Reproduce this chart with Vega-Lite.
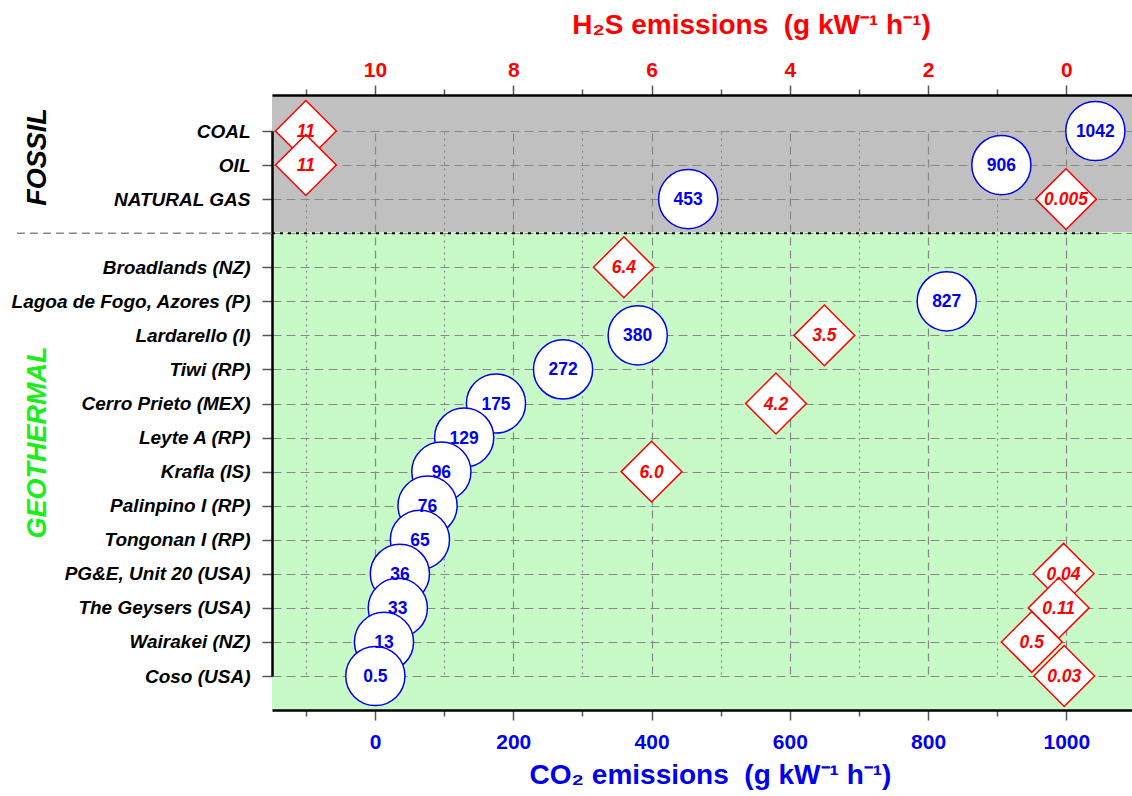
{
  "$schema": "https://vega.github.io/schema/vega-lite/v6.json",
  "width": 860,
  "height": 615,
  "autosize": {"type": "none"},
  "padding": {"left": 272, "top": 95, "right": 0, "bottom": 86},
  "background": "white",
  "config": {
    "font": "Liberation Sans",
    "view": {
      "stroke": null,
      "fill": {
        "gradient": "linear", "x1": 0, "y1": 0, "x2": 0, "y2": 1,
        "stops": [
          {"offset": 0, "color": "#c0c0c0"},
          {"offset": 0.2235, "color": "#c0c0c0"},
          {"offset": 0.2235, "color": "#c8fac8"},
          {"offset": 1, "color": "#c8fac8"}
        ]
      }
    }
  },
  "datasets": {
    "plants": [
      {"name": "COAL", "group": "FOSSIL", "co2": 1042, "co2Label": "1042", "h2s": 11, "h2sLabel": "11"},
      {"name": "OIL", "group": "FOSSIL", "co2": 906, "co2Label": "906", "h2s": 11, "h2sLabel": "11"},
      {"name": "NATURAL GAS", "group": "FOSSIL", "co2": 453, "co2Label": "453", "h2s": 0.005, "h2sLabel": "0.005"},
      {"name": "Broadlands (NZ)", "group": "GEOTHERMAL", "co2": null, "co2Label": null, "h2s": 6.4, "h2sLabel": "6.4"},
      {"name": "Lagoa de Fogo, Azores (P)", "group": "GEOTHERMAL", "co2": 827, "co2Label": "827", "h2s": null, "h2sLabel": null},
      {"name": "Lardarello (I)", "group": "GEOTHERMAL", "co2": 380, "co2Label": "380", "h2s": 3.5, "h2sLabel": "3.5"},
      {"name": "Tiwi (RP)", "group": "GEOTHERMAL", "co2": 272, "co2Label": "272", "h2s": null, "h2sLabel": null},
      {"name": "Cerro Prieto (MEX)", "group": "GEOTHERMAL", "co2": 175, "co2Label": "175", "h2s": 4.2, "h2sLabel": "4.2"},
      {"name": "Leyte A (RP)", "group": "GEOTHERMAL", "co2": 129, "co2Label": "129", "h2s": null, "h2sLabel": null},
      {"name": "Krafla (IS)", "group": "GEOTHERMAL", "co2": 96, "co2Label": "96", "h2s": 6.0, "h2sLabel": "6.0"},
      {"name": "Palinpino I (RP)", "group": "GEOTHERMAL", "co2": 76, "co2Label": "76", "h2s": null, "h2sLabel": null},
      {"name": "Tongonan I (RP)", "group": "GEOTHERMAL", "co2": 65, "co2Label": "65", "h2s": null, "h2sLabel": null},
      {"name": "PG&E, Unit 20 (USA)", "group": "GEOTHERMAL", "co2": 36, "co2Label": "36", "h2s": 0.04, "h2sLabel": "0.04"},
      {"name": "The Geysers (USA)", "group": "GEOTHERMAL", "co2": 33, "co2Label": "33", "h2s": 0.11, "h2sLabel": "0.11"},
      {"name": "Wairakei (NZ)", "group": "GEOTHERMAL", "co2": 13, "co2Label": "13", "h2s": 0.5, "h2sLabel": "0.5"},
      {"name": "Coso (USA)", "group": "GEOTHERMAL", "co2": 0.5, "co2Label": "0.5", "h2s": 0.03, "h2sLabel": "0.03"}
    ]
  },
  "data": {"name": "plants"},
  "encoding": {
    "y": {
      "field": "name",
      "type": "nominal",
      "scale": {
        "type": "point",
        "padding": 0,
        "range": [36, 581],
        "domain": ["COAL", "OIL", "NATURAL GAS", " ", "Broadlands (NZ)", "Lagoa de Fogo, Azores (P)", "Lardarello (I)", "Tiwi (RP)", "Cerro Prieto (MEX)", "Leyte A (RP)", "Krafla (IS)", "Palinpino I (RP)", "Tongonan I (RP)", "PG&E, Unit 20 (USA)", "The Geysers (USA)", "Wairakei (NZ)", "Coso (USA)"]
      },
      "axis": {
        "orient": "left",
        "title": null,
        "labelFont": "Liberation Sans",
        "labelFontSize": 19,
        "labelFontWeight": "bold",
        "labelFontStyle": "italic",
        "labelColor": "black",
        "labelPadding": 12,
        "labelLimit": 400,
        "labelOverlap": false,
        "tickSize": 10,
        "tickColor": "#555555",
        "tickWidth": 1.5,
        "grid": true,
        "gridColor": "#888888",
        "gridDash": [9, 5],
        "gridWidth": 1.2,
        "domainColor": "black",
        "domainWidth": 2.5
      }
    }
  },
  "layer": [
    {
      "layer": [
        {
          "transform": [{"filter": "isValid(datum.co2)"}],
          "mark": {"type": "point", "shape": "circle", "filled": false, "fill": "white", "fillOpacity": 1, "stroke": "#0000ee", "strokeWidth": 1.5, "size": 3500, "opacity": 1},
          "encoding": {
            "x": {
              "field": "co2",
              "type": "quantitative",
              "scale": {"domain": [-149, 1095], "nice": false, "zero": false},
              "axis": {
                "orient": "bottom",
                "values": [-100, 0, 100, 200, 300, 400, 500, 600, 700, 800, 900, 1000],
                "format": "d",
                "labelExpr": "(datum.value % 200 == 0 && datum.value >= 0) ? datum.label : ''",
                "labelOverlap": false,
                "labelFont": "Liberation Sans",
                "labelFontSize": 21,
                "labelFontWeight": "bold",
                "labelColor": "#0000ee",
                "labelPadding": 11,
                "tickSize": {"condition": {"test": "datum.value % 200 == 0", "value": 10}, "value": 6},
                "tickColor": "#555555",
                "tickWidth": 1.5,
                "domainColor": "black",
                "domainWidth": 2.5,
                "grid": true,
                "gridColor": "#888888",
                "gridWidth": 1.2,
                "gridDash": {"condition": {"test": "datum.value % 200 == 0", "value": [8, 5]}, "value": [2, 4]},
                "title": "CO₂ emissions\u00a0 (g kW⁻¹ h⁻¹)",
                "titleFont": "Liberation Sans",
                "titleFontSize": 28,
                "titleFontWeight": "bold",
                "titleColor": "#0000ee",
                "titlePadding": 9,
                "titleX": 438
              }
            }
          }
        },
        {
          "transform": [{"filter": "isValid(datum.co2)"}],
          "mark": {"type": "text", "font": "Liberation Sans", "fontSize": 17.5, "fontWeight": "bold", "color": "#0000ee", "align": "center", "baseline": "middle", "dy": 1},
          "encoding": {
            "x": {"field": "co2", "type": "quantitative", "scale": {"domain": [-149, 1095], "nice": false, "zero": false}},
            "text": {"field": "co2Label"}
          }
        },
        {
          "data": {"values": [{}]},
          "mark": {"type": "rule", "color": "#888888", "strokeWidth": 1.5, "strokeDash": [8, 5]},
          "encoding": {
            "x": {"datum": -518, "type": "quantitative", "scale": {"domain": [-149, 1095], "nice": false, "zero": false}},
            "x2": {"datum": -149},
            "y": {"datum": " ", "type": "nominal"}
          }
        },
        {
          "data": {"values": [{}]},
          "mark": {"type": "rule", "color": "black", "strokeWidth": 2, "strokeDash": [3, 5]},
          "encoding": {
            "x": {"datum": -149, "type": "quantitative", "scale": {"domain": [-149, 1095], "nice": false, "zero": false}},
            "x2": {"datum": 1050},
            "y": {"datum": " ", "type": "nominal"}
          }
        },
        {
          "data": {"values": [{}]},
          "mark": {"type": "text", "text": "FOSSIL", "angle": 270, "align": "center", "baseline": "middle", "font": "Liberation Sans", "fontSize": 27, "fontWeight": "bold", "fontStyle": "italic", "color": "black", "dx": 8},
          "encoding": {
            "x": {"datum": -487, "type": "quantitative", "scale": {"domain": [-149, 1095], "nice": false, "zero": false}},
            "y": {"datum": "OIL", "type": "nominal"}
          }
        },
        {
          "data": {"values": [{}]},
          "mark": {"type": "text", "text": "GEOTHERMAL", "angle": 270, "align": "center", "baseline": "middle", "font": "Liberation Sans", "fontSize": 27, "fontWeight": "bold", "fontStyle": "italic", "color": "#19ee19", "dx": -5},
          "encoding": {
            "x": {"datum": -487, "type": "quantitative", "scale": {"domain": [-149, 1095], "nice": false, "zero": false}},
            "y": {"datum": "Leyte A (RP)", "type": "nominal"}
          }
        }
      ]
    },
    {
      "layer": [
        {
          "transform": [{"filter": "isValid(datum.h2s)"}],
          "mark": {"type": "point", "shape": "diamond", "filled": false, "fill": "white", "fillOpacity": 1, "stroke": "#ff0000", "strokeWidth": 1.5, "size": 3700, "opacity": 1},
          "encoding": {
            "x": {
              "field": "h2s",
              "type": "quantitative",
              "scale": {"domain": [-0.95, 11.49], "reverse": true, "nice": false, "zero": false},
              "axis": {
                "orient": "top",
                "values": [0, 1, 2, 3, 4, 5, 6, 7, 8, 9, 10, 11],
                "format": "d",
                "labelExpr": "datum.value % 2 == 0 ? datum.label : ''",
                "labelOverlap": false,
                "labelFont": "Liberation Sans",
                "labelFontSize": 21,
                "labelFontWeight": "bold",
                "labelColor": "#ff0000",
                "labelPadding": 5,
                "tickSize": {"condition": {"test": "datum.value % 2 == 0", "value": 10}, "value": 6},
                "tickColor": "#555555",
                "tickWidth": 1.5,
                "domainColor": "black",
                "domainWidth": 2.5,
                "grid": false,
                "title": "H₂S emissions\u00a0 (g kW⁻¹ h⁻¹)",
                "titleFont": "Liberation Sans",
                "titleFontSize": 28,
                "titleFontWeight": "bold",
                "titleColor": "#ff0000",
                "titlePadding": 20,
                "titleX": 479
              }
            }
          }
        },
        {
          "transform": [{"filter": "isValid(datum.h2s)"}],
          "mark": {"type": "text", "font": "Liberation Sans", "fontSize": 17.5, "fontWeight": "bold", "fontStyle": "italic", "color": "#ff0000", "align": "center", "baseline": "middle", "dy": 1},
          "encoding": {
            "x": {"field": "h2s", "type": "quantitative", "scale": {"domain": [-0.95, 11.49], "reverse": true, "nice": false, "zero": false}},
            "text": {"field": "h2sLabel"}
          }
        }
      ]
    }
  ],
  "resolve": {"scale": {"x": "independent"}, "axis": {"x": "independent"}}
}
